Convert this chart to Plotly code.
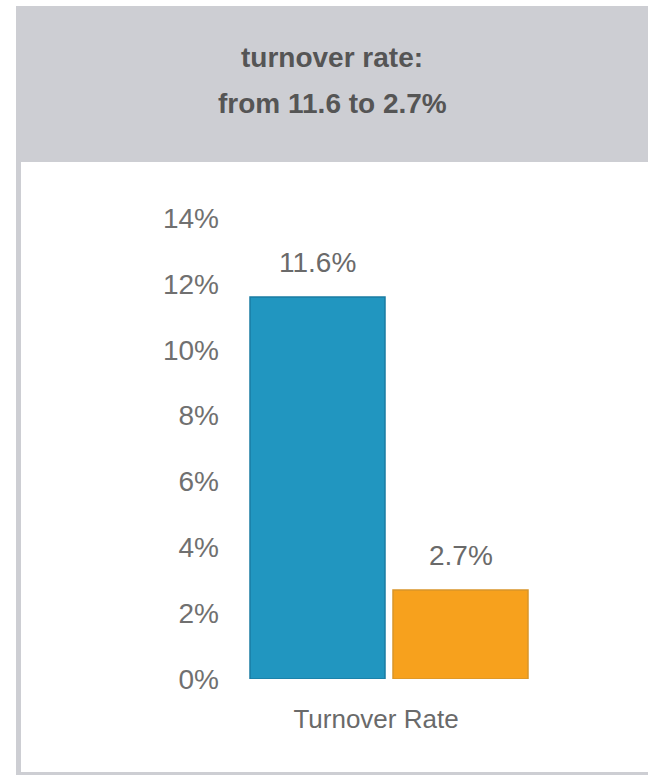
import plotly.graph_objects as go

# Data
category = ["Turnover Rate"]
series_names = ["Before", "After"]
series_values = [[11.6], [2.7]]
series_colors = ["#2196C0", "#F7A11D"]
series_edges = ["#1A7CA3", "#D9952A"]
tick_vals = [0, 2, 4, 6, 8, 10, 12, 14]
tick_text = ["0%", "2%", "4%", "6%", "8%", "10%", "12%", "14%"]
title_lines = ["turnover rate:", "from 11.6 to 2.7%"]

W, H = 648, 775
plot_left, plot_right = 226, 552
plot_top, plot_bottom = 218, 679
PW, PH = plot_right - plot_left, plot_bottom - plot_top


def px_x(px):
    # figure pixel column -> paper fraction (paper spans the plot area)
    return (px - plot_left) / PW


def px_y(py):
    # figure pixel row (from top) -> paper fraction
    return (plot_bottom - py) / PH


fig = go.Figure()
for name, vals, col, edge in zip(series_names, series_values, series_colors, series_edges):
    fig.add_trace(go.Bar(
        x=category, y=vals, name=name,
        marker=dict(color=col, line=dict(color=edge, width=1.5)),
        showlegend=False, hoverinfo="skip",
    ))

# value labels above each bar
slot = 143
for i, vals in enumerate(series_values):
    for c, v in zip(category, vals):
        fig.add_annotation(
            x=c, y=v, xref="x", yref="y", text=f"{v}%",
            showarrow=False, yanchor="bottom", yshift=17,
            xshift=(i - 0.5) * slot,
            font=dict(family="Liberation Sans, Arial", size=28, color="#6a6a6a"),
        )

# header band and frame
band = "#CDCED3"
fig.add_shape(type="rect", xref="paper", yref="paper",
              x0=px_x(16), x1=px_x(W), y0=px_y(162), y1=px_y(6),
              fillcolor=band, line_width=0, layer="below")
fig.add_shape(type="rect", xref="paper", yref="paper",
              x0=px_x(16), x1=px_x(21), y0=px_y(H), y1=px_y(162),
              fillcolor=band, line_width=0, layer="below")
fig.add_shape(type="rect", xref="paper", yref="paper",
              x0=px_x(16), x1=px_x(W), y0=px_y(H), y1=px_y(772),
              fillcolor=band, line_width=0, layer="below")

# title lines
for line, yc in zip(title_lines, [57, 104]):
    fig.add_annotation(
        x=px_x(332), y=px_y(yc), xref="paper", yref="paper",
        text=f"<b>{line}</b>", showarrow=False, xanchor="center", yanchor="middle",
        font=dict(family="Liberation Sans, Arial", size=28, color="#555555"),
    )

fig.update_layout(
    width=W, height=H,
    margin=dict(l=plot_left, r=W - plot_right, t=plot_top, b=H - plot_bottom, pad=0),
    paper_bgcolor="white", plot_bgcolor="white",
    barmode="group", bargap=0.1227, bargroupgap=0.056,
    xaxis=dict(showgrid=False, zeroline=False, showline=False, ticks="",
               tickfont=dict(family="Liberation Sans, Arial", size=26, color="#6a6a6a"),
               ticklabelstandoff=22, ticklabelshift=-13),
    yaxis=dict(range=[0, 14], tickvals=tick_vals, ticktext=tick_text,
               showgrid=False, zeroline=False, showline=False, ticks="",
               tickfont=dict(family="Liberation Sans, Arial", size=28, color="#707070"),
               ticklabelstandoff=6),
)

fig.write_html("out.html")
